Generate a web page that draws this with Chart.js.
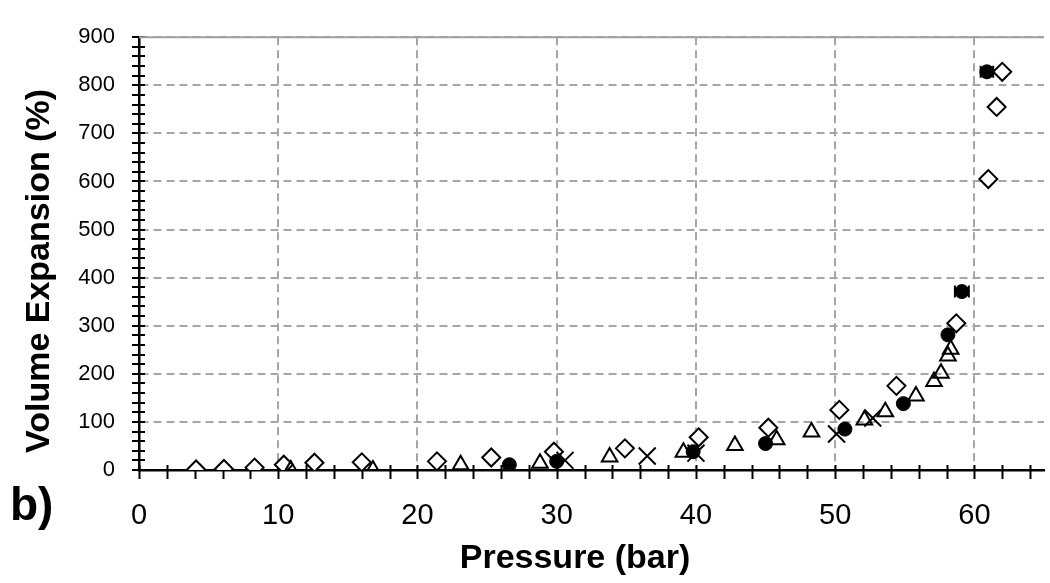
<!DOCTYPE html>
<html>
<head>
<meta charset="utf-8">
<script src="https://cdn.jsdelivr.net/npm/chart.js@4.4.1/dist/chart.umd.min.js"></script>
<style>
  html, body { margin: 0; padding: 0; background: #fff; overflow: hidden; }
  #wrap { position: relative; width: 1050px; height: 583px; overflow: hidden; }
  #panel { position: absolute; left: 10px; top: 477px; font: bold 46px "Liberation Sans", Arial, sans-serif; color: #000; }
</style>
</head>
<body>
<div id="wrap">
  <canvas id="myChart" width="1058" height="583"></canvas>
  <div id="panel">b)</div>
</div>
<script>
// data
const xTicks = [0, 10, 20, 30, 40, 50, 60];
const yTicks = [0, 100, 200, 300, 400, 500, 600, 700, 800, 900];
const xTitle = 'Pressure (bar)';
const yTitle = 'Volume Expansion (%)';

// open diamonds
const diamondX = [4.1, 6.1, 8.3, 10.4, 12.6, 16.0, 21.4, 25.3, 29.8, 34.9, 40.2, 45.2, 50.3, 54.4, 58.7, 61.0, 61.6, 62.0];
const diamondY = [1, 2, 5, 11, 15, 16, 18, 26, 38, 45, 68, 88, 125, 175, 305, 605, 755, 828];
// open triangles
const triX = [10.9, 16.8, 23.1, 28.8, 33.8, 39.1, 42.8, 45.8, 48.3, 52.1, 53.6, 55.8, 57.1, 57.6, 58.1, 58.3];
const triY = [0, 0, 11, 14, 27, 37, 51, 63, 79, 104, 121, 154, 184, 201, 237, 251];
// crosses
const crossX = [30.6, 36.5, 40.0, 50.1, 52.7];
const crossY = [20, 29, 35, 75, 108];
// filled circles (last two have horizontal error bars)
const circX = [26.6, 30.0, 39.8, 45.0, 50.7, 54.9, 58.1, 59.1, 60.9];
const circY = [11, 18, 38, 55, 85, 138, 281, 371, 828];
const circErr = [0, 0, 0, 0, 0, 0, 0, 0.5, 0.45];

function toPoints(xs, ys) {
  return xs.map(function (x, i) { return { x: x, y: ys[i] }; });
}

const FONT = '"Liberation Sans", Arial, sans-serif';

// tick marks that cross the axes, error bars, top border, axis titles
const extras = {
  id: 'extras',
  beforeDatasetsDraw(chart) {
    const ctx = chart.ctx;
    const xs = chart.scales.x, ys = chart.scales.y;
    const area = chart.chartArea;
    ctx.save();
    ctx.strokeStyle = '#000';
    ctx.lineWidth = 2;
    ctx.beginPath();
    for (let v = 0; v <= 64; v += 2) {
      const px = Math.round(xs.getPixelForValue(v)) + 0.5;
      ctx.moveTo(px, area.bottom - 5);
      ctx.lineTo(px, area.bottom + 9);
    }
    for (let v = 0; v <= 900; v += 20) {
      const py = Math.round(ys.getPixelForValue(v));
      ctx.moveTo(area.left - 7, py);
      ctx.lineTo(area.left + 6, py);
    }
    ctx.stroke();
    // top border
    ctx.strokeStyle = '#a0a0a0';
    ctx.beginPath();
    ctx.moveTo(area.left, area.top);
    ctx.lineTo(area.right, area.top);
    ctx.stroke();
    ctx.restore();
  },
  afterDatasetsDraw(chart) {
    const ctx = chart.ctx;
    const xs = chart.scales.x, ys = chart.scales.y;
    ctx.save();
    ctx.strokeStyle = '#000';
    ctx.lineWidth = 2;
    circX.forEach(function (x, i) {
      const e = circErr[i];
      if (!e) return;
      const x1 = xs.getPixelForValue(x - e);
      const x2 = xs.getPixelForValue(x + e);
      const py = ys.getPixelForValue(circY[i]);
      ctx.beginPath();
      ctx.moveTo(x1, py); ctx.lineTo(x2, py);
      ctx.moveTo(x1, py - 6); ctx.lineTo(x1, py + 6);
      ctx.moveTo(x2, py - 6); ctx.lineTo(x2, py + 6);
      ctx.stroke();
    });

    // axis titles (not centred on the axes in the original)
    ctx.fillStyle = '#000';
    ctx.font = 'bold 34px ' + FONT;
    ctx.textAlign = 'center';
    ctx.textBaseline = 'middle';
    ctx.fillText(xTitle, 575, 559);
    ctx.translate(40, 271);
    ctx.rotate(-Math.PI / 2);
    ctx.fillText(yTitle, 0, 0);
    ctx.restore();
  }
};

const chartArea = document.getElementById('myChart').getContext('2d');

const myChart = new Chart(chartArea, {
  type: 'scatter',
  data: {
    datasets: [
      {
        label: 'filled',
        data: toPoints(circX, circY),
        pointStyle: 'circle',
        pointRadius: 7,
        pointHoverRadius: 7,
        backgroundColor: '#000',
        borderColor: '#000',
        borderWidth: 1
      },
      {
        label: 'cross',
        data: toPoints(crossX, crossY),
        pointStyle: 'crossRot',
        pointRadius: 12,
        pointHoverRadius: 12,
        borderColor: '#000',
        borderWidth: 2
      },
      {
        label: 'triangle',
        data: toPoints(triX, triY),
        pointStyle: 'triangle',
        pointRadius: 9,
        pointHoverRadius: 9,
        backgroundColor: 'rgba(255,255,255,0)',
        borderColor: '#000',
        borderWidth: 2
      },
      {
        label: 'diamond',
        data: toPoints(diamondX, diamondY),
        pointStyle: 'rectRot',
        pointRadius: 9,
        pointHoverRadius: 9,
        backgroundColor: '#fff',
        borderColor: '#000',
        borderWidth: 2
      }
    ]
  },
  options: {
    responsive: false,
    animation: false,
    events: [],
    layout: { padding: { top: 20, left: 0, right: 0, bottom: 0 } },
    plugins: {
      legend: { display: false },
      tooltip: { enabled: false }
    },
    scales: {
      x: {
        type: 'linear',
        min: 0,
        max: 65,
        afterFit: function (scale) { scale.height = 113; },
        afterBuildTicks: function (scale) {
          scale.ticks = xTicks.map(function (v) { return { value: v }; });
        },
        ticks: {
          stepSize: 10,
          includeBounds: false,
          padding: 29,
          color: '#000',
          maxRotation: 0,
          font: { family: FONT, size: 29 }
        },
        grid: { color: '#a6a6a6', lineWidth: 2, drawTicks: false },
        border: { display: true, color: '#000', width: 2.5, dash: [8, 5] }
      },
      y: {
        type: 'linear',
        min: 0,
        max: 900,
        afterFit: function (scale) { scale.width = 139; },
        afterBuildTicks: function (scale) {
          scale.ticks = yTicks.map(function (v) { return { value: v }; });
        },
        ticks: {
          stepSize: 100,
          padding: 24,
          color: '#000',
          font: { family: FONT, size: 22 }
        },
        grid: { color: '#a6a6a6', lineWidth: 2, drawTicks: false },
        border: { display: true, color: '#000', width: 2.5, dash: [8, 5] }
      }
    }
  },
  plugins: [extras]
});
</script>
</body>
</html>
